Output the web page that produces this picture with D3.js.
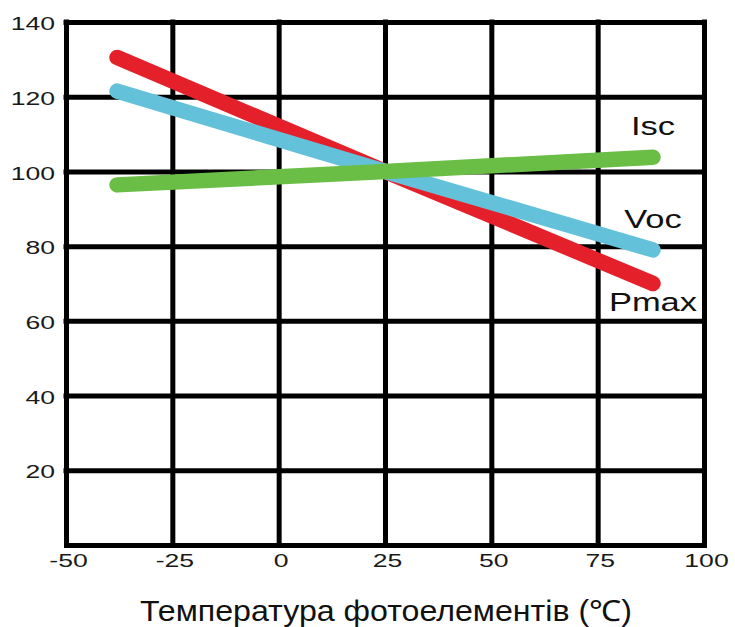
<!DOCTYPE html>
<html>
<head>
<meta charset="utf-8">
<script src="https://cdn.jsdelivr.net/npm/d3@7"></script>
<style>
  html, body { margin: 0; padding: 0; background: #fff; }
  svg { display: block; }
</style>
</head>
<body>
<svg id="chart" width="735" height="627"></svg>
<script>
// ---- data ----
const xTicks = [-50, -25, 0, 25, 50, 75, 100];
const yTicks = [20, 40, 60, 80, 100, 120, 140];
const temps = [-38, 25, 88];
const pmax = [130.5, 100, 70];
const voc = [121.5, 100, 79];
const isc = [96.4, 100, 103.8];
const seriesNames = ["Pmax", "Voc", "Isc"];
const xTitle = "Температура фотоелементів (℃)";

(function () {
// ---- layout ----
const W = 735, H = 627;
const pLeft = 66, pRight = 704, pTop = 22, pBottom = 545;
const FONT = "'Liberation Sans', Arial, sans-serif";
const fmt = d => String(d);

const svg = d3.select("#chart");
svg.append("rect").attr("width", W).attr("height", H).attr("fill", "#fff");

const x = d3.scaleLinear().domain([-50, 100]).range([pLeft, pRight]);
const y = d3.scaleLinear().domain([0, 140]).range([pBottom, pTop]);

// grid via axes
const gx = svg.append("g")
  .attr("transform", `translate(0,${pBottom})`)
  .call(d3.axisBottom(x).tickValues(xTicks).tickSize(-(pBottom - pTop)).tickSizeOuter(0).tickPadding(9).tickFormat(fmt));
const gy = svg.append("g")
  .attr("transform", `translate(${pLeft},0)`)
  .call(d3.axisLeft(y).tickValues(yTicks).tickSize(-(pRight - pLeft)).tickSizeOuter(0).tickPadding(11).tickFormat(fmt));

[gx, gy].forEach(g => {
  g.attr("font-family", FONT).attr("font-size", 19);
  g.selectAll(".tick line").attr("stroke", "#000").attr("stroke-width", 5).attr("stroke-linecap", "square");
  g.select(".domain").attr("stroke", "#000").attr("stroke-width", 5);
  g.selectAll(".tick text").attr("fill", "#1a1a1a");
});
gy.select(".domain").remove();
gx.select(".domain").attr("stroke-linecap", "square");

const SX = 1.4;
gx.selectAll(".tick text")
  .attr("x", 2 / SX)
  .attr("transform", `scale(${SX},1)`);
gy.selectAll(".tick text")
  .attr("x", -11 / SX)
  .attr("dy", "0.4em")
  .attr("transform", `scale(${SX},1)`);

// series
const colors = { Pmax: "#e4202a", Voc: "#63c1da", Isc: "#6abd45" };
const dataMap = { Pmax: pmax, Voc: voc, Isc: isc };
const line = d3.line().x(d => x(d[0])).y(d => y(d[1]));

seriesNames.forEach(name => {
  const pts = temps.map((t, i) => [t, dataMap[name][i]]);
  svg.append("path")
    .datum(pts)
    .attr("d", line)
    .attr("fill", "none")
    .attr("stroke", colors[name])
    .attr("stroke-width", 15.5)
    .attr("stroke-linecap", "round")
    .attr("stroke-linejoin", "round");
});

// series labels
const labelOffsets = { Isc: -22.5, Voc: -21.5, Pmax: 27 };
const LSX = 1.38;
seriesNames.forEach(name => {
  const vals = dataMap[name];
  const lx = x(temps[temps.length - 1]);
  const ly = y(vals[vals.length - 1]) + labelOffsets[name];
  svg.append("text")
    .attr("transform", `translate(${lx},${ly}) scale(${LSX},1)`)
    .attr("text-anchor", "middle")
    .attr("font-family", FONT)
    .attr("font-size", 25)
    .attr("fill", "#111")
    .text(name);
});

// x axis title
svg.append("text")
  .attr("x", (pLeft + pRight) / 2 + 1)
  .attr("y", 621)
  .attr("text-anchor", "middle")
  .attr("font-family", FONT)
  .attr("font-size", 29)
  .attr("fill", "#111")
  .attr("textLength", 492)
  .attr("lengthAdjust", "spacingAndGlyphs")
  .text(xTitle);
})();
</script>
</body>
</html>
